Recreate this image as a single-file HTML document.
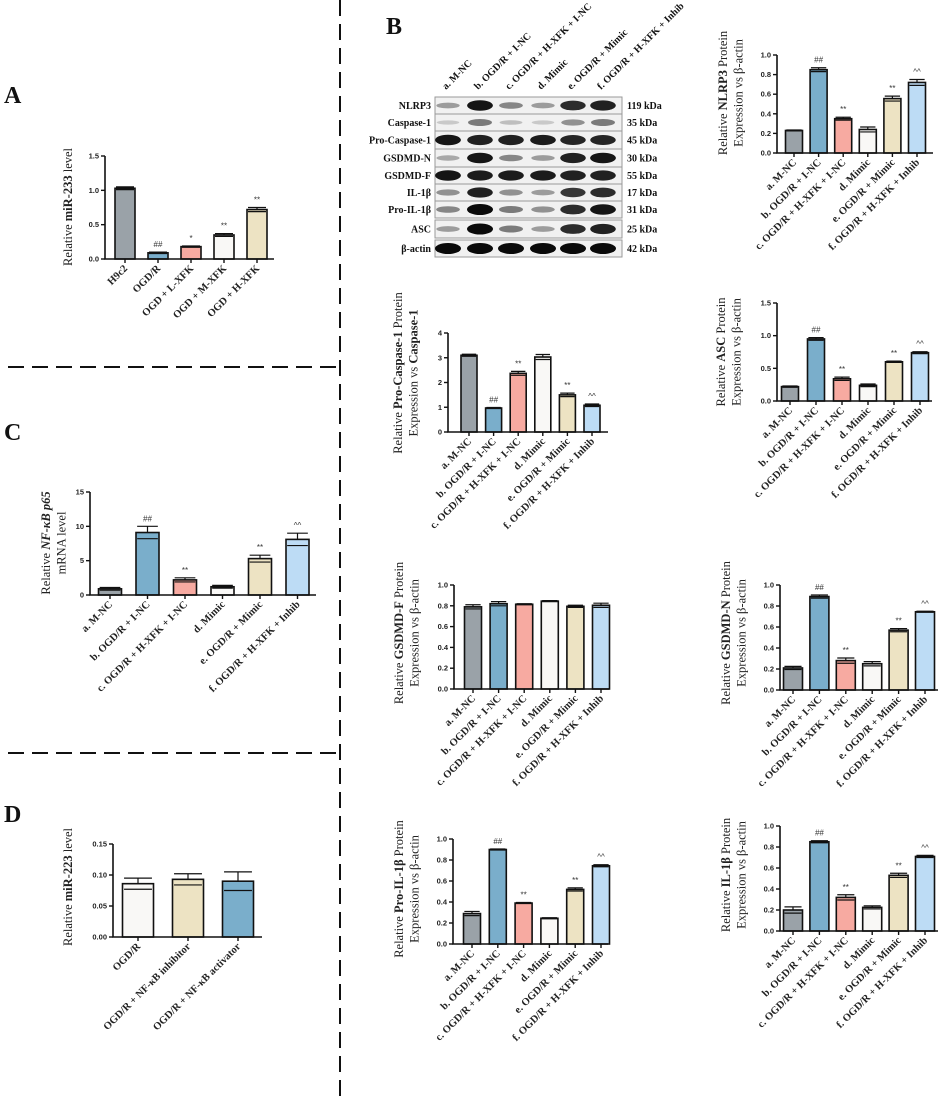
<!DOCTYPE html>
<html><head><meta charset="utf-8">
<style>
html,body{margin:0;padding:0;background:#fff;}
svg{display:block;}
text{font-family:"Liberation Serif",serif;}
.tick{font-family:"Liberation Sans",sans-serif;font-weight:bold;font-size:7.5px;fill:#222;}
.xl{font-family:"Liberation Serif",serif;font-weight:bold;font-size:10.5px;fill:#222;}
.yl{font-size:12.5px;fill:#222;}
.ann{font-family:"Liberation Sans",sans-serif;font-size:8px;fill:#333;}
.plab{font-family:"Liberation Serif",serif;font-weight:bold;font-size:24px;fill:#111;}
.wb{font-family:"Liberation Serif",serif;font-weight:bold;font-size:10px;fill:#111;}
</style></head>
<body>
<svg id="fig" width="941" height="1101" viewBox="0 0 941 1101" xmlns="http://www.w3.org/2000/svg">
<g stroke="#111" stroke-width="2" stroke-dasharray="16,8">
<line x1="340" y1="0" x2="340" y2="1101"/>
<line x1="8" y1="367" x2="336" y2="367"/>
<line x1="8" y1="753" x2="336" y2="753"/>
</g>
<text class="plab" x="4" y="103">A</text>
<text class="plab" x="386" y="34">B</text>
<text class="plab" x="4" y="440">C</text>
<text class="plab" x="4" y="822">D</text>
<g id="charts"></g>
<g id="blot"></g>
</svg>
<script>
const catsA = ["H9c2","OGD/R","OGD + L-XFK","OGD + M-XFK","OGD + H-XFK"];
const cats6 = ["a. M-NC","b. OGD/R + I-NC","c. OGD/R + H-XFK + I-NC","d. Mimic","e. OGD/R + Mimic","f. OGD/R + H-XFK + Inhib"];
const catsD = ["OGD/R","OGD/R + NF-κB inhibitor","OGD/R + NF-κB activator"];
const colorsA = ["#9aa2a8","#7aaecb","#f7aaa1","#f9f8f6","#ede3c3"];
const colors6 = ["#9aa2a8","#7aaecb","#f7aaa1","#f9f8f6","#ede3c3","#bddcf5"];
const colorsD = ["#f9f8f6","#ede3c3","#7aaecb"];
const ann6 = ["","##","**","","**","^^"];

const valsA = [1.03,0.09,0.18,0.35,0.72];
const errA = [0.02,0.01,0.01,0.02,0.03];
const annA = ["","##","*","**","**"];
const ticksA = [0,0.5,1.0,1.5];

const valsNLRP3 = [0.23,0.85,0.35,0.24,0.555,0.72];
const errNLRP3 = [0.005,0.02,0.015,0.025,0.025,0.03];
const ticks10 = [0,0.2,0.4,0.6,0.8,1.0];

const valsProCasp = [3.1,0.97,2.37,3.03,1.5,1.08];
const errProCasp = [0.04,0.02,0.08,0.1,0.07,0.05];
const ticks4 = [0,1,2,3,4];

const valsASC = [0.22,0.95,0.34,0.24,0.60,0.74];
const errASC = [0.01,0.02,0.025,0.02,0.01,0.015];
const ticks15 = [0,0.5,1.0,1.5];

const valsC = [0.9,9.1,2.2,1.2,5.3,8.1];
const errC = [0.2,0.9,0.3,0.2,0.5,0.9];
const ticksC = [0,5,10,15];

const valsGF = [0.79,0.82,0.815,0.845,0.795,0.805];
const errGF = [0.02,0.02,0.005,0.005,0.01,0.02];

const valsGN = [0.21,0.89,0.28,0.25,0.57,0.745];
const errGN = [0.015,0.015,0.025,0.02,0.015,0.005];

const valsProIL = [0.29,0.90,0.39,0.245,0.52,0.745];
const errProIL = [0.02,0.005,0.005,0.005,0.015,0.01];

const valsIL = [0.20,0.85,0.32,0.225,0.53,0.71];
const errIL = [0.03,0.01,0.025,0.015,0.02,0.01];

const valsD = [0.086,0.093,0.090];
const errD = [0.009,0.009,0.015];
const ticksD = [0,0.05,0.10,0.15];

const NS = "http://www.w3.org/2000/svg";
function mk(tag, attrs, parent){
  const e = document.createElementNS(NS, tag);
  for (const k in attrs) e.setAttribute(k, attrs[k]);
  parent.appendChild(e);
  return e;
}

function chart(cfg){
  const root = document.getElementById("charts");
  const g = mk("g", {}, root);
  
  
  const max = cfg.ticks[cfg.ticks.length-1];
  const y = v => cfg.y0 - (v/max)*(cfg.y0-cfg.yTop);
  const x = i => cfg.x0 + cfg.padL + i*cfg.step;
  cfg.vals.forEach((v,i)=>{
    const r = mk("rect", {x:x(i)-cfg.bw/2, y:y(v), width:cfg.bw, height:cfg.y0-y(v), fill:cfg.colors[i], stroke:"#111", "stroke-width":1.6}, g);
    
    
    const e = cfg.errs[i];
    const cw = cfg.bw*0.45;
    const eb = mk("path", {d:`M${x(i)},${y(v)} V${y(v+e)} M${x(i)-cw},${y(v+e)} H${x(i)+cw} M${x(i)-cw},${y(v-e)} H${x(i)+cw}`, stroke:"#111","stroke-width":1.2, fill:"none"}, g);
    
    
    if (cfg.ann && cfg.ann[i]){
      const t = mk("text", {x:x(i), y:y(v+e)-5, "text-anchor":"middle", class:"ann"}, g);
      t.textContent = cfg.ann[i];
      
      
    }
  });
  const ax = mk("path", {d:`M${cfg.x0},${cfg.yTop} V${cfg.y0} H${cfg.xEnd}`, stroke:"#111","stroke-width":1.6, fill:"none"}, g);
  
  
  cfg.ticks.forEach(t=>{
    mk("line", {x1:cfg.x0-4, x2:cfg.x0, y1:y(t), y2:y(t), stroke:"#111","stroke-width":1.4}, g);
    const tl = mk("text", {x:cfg.x0-6, y:y(t)+2.5, "text-anchor":"end", class:"tick"}, g);
    tl.textContent = t.toFixed(cfg.dec);
    
    
  });
  cfg.cats.forEach((c,i)=>{
    mk("line", {x1:x(i), x2:x(i), y1:cfg.y0, y2:cfg.y0+4, stroke:"#111","stroke-width":1.4}, g);
    const tl = mk("text", {transform:`translate(${x(i)+3},${cfg.y0+10}) rotate(-45)`, "text-anchor":"end", class:"xl"}, g);
    tl.textContent = c;
    
    
  });
  const yl = mk("g", {transform:`translate(${cfg.ylx},${cfg.yly}) rotate(-90)`}, g);
  
  
  cfg.ylab.forEach((line,li)=>{
    const t = mk("text", {x:0, y:li*15.5, "text-anchor":"middle", class:"yl"}, yl);
    line.forEach(seg=>{
      const s = mk("tspan", {}, t);
      if (seg.b) s.setAttribute("font-weight","bold");
      if (seg.i) s.setAttribute("font-style","italic");
      s.textContent = seg.t;
    });
  });
}

const P = t=>({t}), B = t=>({t,b:1});
const betaLine = [P("Expression vs β-actin")];

chart({name:"chart-a-mir233", cats:catsA, vals:valsA, errs:errA, ann:annA, colors:colorsA, ticks:ticksA, dec:1,
  x0:105, xEnd:274, yTop:156, y0:259, padL:20, step:33, bw:20, ylx:72, yly:207,
  ylab:[[P("Relative "),B("miR-233"),P(" level")]]});
chart({name:"chart-c-nfkb", cats:cats6, vals:valsC, errs:errC, ann:ann6, colors:colors6, ticks:ticksC, dec:0,
  x0:90, xEnd:316, yTop:492, y0:595, padL:20, step:37.5, bw:23, ylx:50, yly:543,
  ylab:[[P("Relative "),{t:"NF-κB p65",b:1,i:1}],[P("mRNA level")]]});
chart({name:"chart-d-mir223", cats:catsD, vals:valsD, errs:errD, ann:null, colors:colorsD, ticks:ticksD, dec:2,
  x0:113, xEnd:262, yTop:844, y0:937, padL:25, step:50, bw:31, ylx:72, yly:887,
  ylab:[[P("Relative "),B("miR-223"),P(" level")]]});
chart({name:"chart-nlrp3", cats:cats6, vals:valsNLRP3, errs:errNLRP3, ann:ann6, colors:colors6, ticks:ticks10, dec:1,
  x0:777, xEnd:933, yTop:55, y0:153, padL:17, step:24.6, bw:17, ylx:727, yly:93,
  ylab:[[P("Relative "),B("NLRP3"),P(" Protein")],betaLine]});
chart({name:"chart-pro-caspase1", cats:cats6, vals:valsProCasp, errs:errProCasp, ann:ann6, colors:colors6, ticks:ticks4, dec:0,
  x0:448, xEnd:608, yTop:333, y0:432, padL:21, step:24.6, bw:16, ylx:402, yly:373,
  ylab:[[P("Relative "),B("Pro-Caspase-1"),P(" Protein")],[P("Expression vs "),B("Caspase-1")]]});
chart({name:"chart-asc", cats:cats6, vals:valsASC, errs:errASC, ann:ann6, colors:colors6, ticks:ticks15, dec:1,
  x0:777, xEnd:932, yTop:303, y0:401, padL:13, step:26, bw:17, ylx:725, yly:352,
  ylab:[[P("Relative "),B("ASC"),P(" Protein")],betaLine]});
chart({name:"chart-gsdmd-f", cats:cats6, vals:valsGF, errs:errGF, ann:null, colors:colors6, ticks:ticks10, dec:1,
  x0:454, xEnd:609, yTop:585, y0:689, padL:19, step:25.6, bw:17, ylx:403, yly:633,
  ylab:[[P("Relative "),B("GSDMD-F"),P(" Protein")],betaLine]});
chart({name:"chart-gsdmd-n", cats:cats6, vals:valsGN, errs:errGN, ann:ann6, colors:colors6, ticks:ticks10, dec:1,
  x0:780, xEnd:938, yTop:585, y0:690, padL:13, step:26.4, bw:19, ylx:730, yly:633,
  ylab:[[P("Relative "),B("GSDMD-N"),P(" Protein")],betaLine]});
chart({name:"chart-pro-il1b", cats:cats6, vals:valsProIL, errs:errProIL, ann:ann6, colors:colors6, ticks:ticks10, dec:1,
  x0:453, xEnd:608, yTop:839, y0:944, padL:19, step:25.8, bw:17, ylx:403, yly:889,
  ylab:[[P("Relative "),B("Pro-IL-1β"),P(" Protein")],betaLine]});
chart({name:"chart-il1b", cats:cats6, vals:valsIL, errs:errIL, ann:ann6, colors:colors6, ticks:ticks10, dec:1,
  x0:780, xEnd:938, yTop:826, y0:931, padL:13, step:26.4, bw:19, ylx:730, yly:875,
  ylab:[[P("Relative "),B("IL-1β"),P(" Protein")],betaLine]});

const wbRows = ["NLRP3","Caspase-1","Pro-Caspase-1","GSDMD-N","GSDMD-F","IL-1β","Pro-IL-1β","ASC","β-actin"];
const wbKda = ["119 kDa","35 kDa","45 kDa","30 kDa","55 kDa","17 kDa","31 kDa","25 kDa","42 kDa"];
const wbInt = [
 [0.35,0.95,0.45,0.35,0.85,0.9],
 [0.15,0.5,0.2,0.15,0.4,0.5],
 [0.95,0.9,0.9,0.92,0.88,0.88],
 [0.3,0.95,0.45,0.35,0.9,0.95],
 [0.95,0.92,0.92,0.92,0.9,0.9],
 [0.4,0.9,0.4,0.35,0.8,0.85],
 [0.45,1.0,0.5,0.4,0.85,0.95],
 [0.35,1.0,0.5,0.35,0.85,0.9],
 [1.0,1.0,1.0,1.0,1.0,1.0]
];
(function(){
  const g = document.getElementById("blot");
  const tops = [97,114,131,149,167,184,201,220,240];
  const hs = [17,17,18,18,17,17,17,18,17];
  const lanes = [448,480,511,543,573,603];
  cats6.forEach((c,i)=>{
    const t = mk("text", {transform:`translate(${lanes[i]-2},90) rotate(-45)`, class:"wb"}, g);
    t.textContent = c;
    
    
  });
  wbRows.forEach((r,ri)=>{
    const y0 = tops[ri], h = hs[ri];
    const bx = mk("rect", {x:435, y:y0, width:187, height:h, fill:"#f1f1f1", stroke:"#999","stroke-width":1}, g);
    
    
    wbInt[ri].forEach((v,li)=>{
      const shade = Math.round(235 - v*225);
      const e = mk("ellipse", {cx:lanes[li], cy:y0+h/2, rx:11+v*2, ry:1.5+v*4, fill:`rgb(${shade},${shade},${shade})`}, g);
      
      
    });
    const l = mk("text", {x:431, y:y0+h/2+3.5, "text-anchor":"end", class:"wb"}, g);
    l.textContent = r;
    
    
    const k = mk("text", {x:627, y:y0+h/2+3.5, class:"wb"}, g);
    k.textContent = wbKda[ri];
    
    
  });
})();
</script>
</body></html>
